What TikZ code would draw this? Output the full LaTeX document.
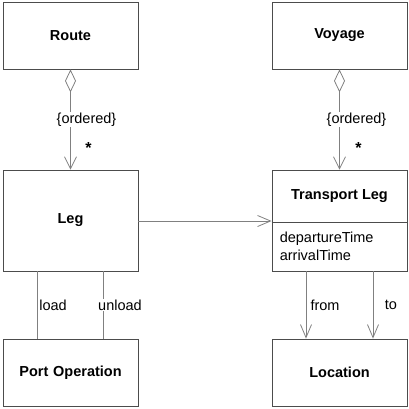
\documentclass[tikz,border=0pt]{standalone}
\usepackage{fontspec}
\setmainfont{Liberation Sans}
\usetikzlibrary{arrows.meta,positioning}
\definecolor{boxline}{gray}{0.3}
\definecolor{linkline}{gray}{0.5}
\tikzstyle{classbox} = [rectangle, draw=boxline, line width=0.8pt, text width=120pt,
    align=center, minimum width=135pt, minimum height=67pt,
    font=\fontsize{14.5}{18}\selectfont\bfseries]
\tikzstyle{link} = [draw=linkline, line width=0.8pt]
\tikzstyle{linklabel} = [fill=white, inner sep=1pt, font=\fontsize{14.5}{18}\selectfont]
\tikzstyle{openhead} = [-{Straight Barb[length=13pt, width=11pt]}]
\tikzstyle{whole} = [{Diamond[open, length=23pt, width=11pt]}-{Straight Barb[length=12pt, width=12pt]}]

\begin{document}
\begin{tikzpicture}[x=1pt, y=1pt, font=\fontsize{14.5}{18}\selectfont]
    \useasboundingbox (0,0) rectangle (409,-408);
    % Place nodes
    % Upper row
    \node [classbox] (Route) at (70.5,-35.5) {Route};
    \node [classbox, right of=Route, node distance=269pt] (Voyage) {Voyage};
    % Middle row
    \node [classbox, below of=Route, node distance=185pt, minimum height=101pt] (Leg) {Leg};
    \node [classbox, below of=Voyage, node distance=185pt, minimum height=101pt] (TLeg) {};
    \node [font=\fontsize{14.5}{18}\selectfont\bfseries] (TLegName) at ([yshift=-26pt]TLeg.north) {Transport Leg};
    \node [align=left, anchor=west, inner sep=0pt] (TLegAttr) at ([xshift=8pt, yshift=-26pt]TLeg.west)
        {departureTime\\arrivalTime};
    \draw [draw=boxline, line width=0.8pt] ([yshift=-1.5pt]TLeg.west) -- ([yshift=-1.5pt]TLeg.east);
    % Lower row
    \node [classbox, below of=Leg, node distance=152pt] (PortOp) {Port Operation};
    \node [classbox, below of=TLeg, node distance=152pt] (Location) {Location};

    % Draw edges
    % Aggregations
    \draw [link, whole] (Route) -- node [linklabel, xshift=16pt] {\{ordered\}}
        node [pos=0.78, xshift=18pt, font=\fontsize{16}{18}\selectfont\bfseries] {*} (Leg);
    \draw [link, whole] (Voyage) -- node [linklabel, xshift=17pt] {\{ordered\}}
        node [pos=0.78, xshift=19pt, font=\fontsize{16}{18}\selectfont\bfseries] {*} (TLeg);
    % Leg to transport leg
    \draw [link, openhead] ([yshift=-0.5pt]Leg.east) -- ([yshift=-0.5pt]TLeg.west);
    % Port operations
    \draw [link] ([xshift=-33.5pt]Leg.south) -- node [linklabel, xshift=16pt] {load} ([xshift=-33.5pt]PortOp.north);
    \draw [link] ([xshift=32.5pt]Leg.south) -- node [linklabel, xshift=17pt] {unload} ([xshift=32.5pt]PortOp.north);
    % Locations
    \draw [link, openhead] ([xshift=-33.5pt]TLeg.south) -- node [linklabel, xshift=19pt] {from} ([xshift=-33.5pt]Location.north);
    \draw [link, openhead] ([xshift=33.5pt]TLeg.south) -- node [linklabel, xshift=18pt] {to} ([xshift=33.5pt]Location.north);
\end{tikzpicture}
\end{document}
